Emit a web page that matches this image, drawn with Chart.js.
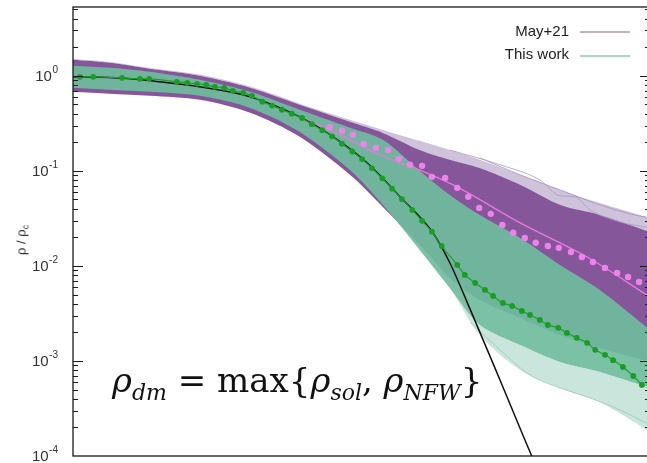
<!DOCTYPE html>
<html>
<head>
<meta charset="utf-8">
<script src="https://cdn.jsdelivr.net/npm/chart.js@4/dist/chart.umd.min.js"></script>
<style>
  html, body { margin: 0; padding: 0; background: #fff; overflow: hidden; }
  #wrap { position: absolute; left: 0; top: 0; width: 660px; height: 480px; }
  #ylab { position: absolute; left: 22px; top: 240px; transform: translate(-50%, -50%) rotate(-90deg);
          font: 13px "Liberation Sans", Arial, sans-serif; color: #222; white-space: nowrap; }
  #ylab sub { font-size: 9px; vertical-align: -3px; }
  .leg { position: absolute; font: 15px "Liberation Sans", Arial, sans-serif; color: #222; text-align: right; width: 200px; }
  .legline { position: absolute; height: 1.5px; width: 50px; left: 580px; }
  #formula { position: absolute; left: 112px; top: 360px; font: 34px "DejaVu Serif", "Liberation Serif", serif; color: #111; white-space: nowrap; }
  #formula sub { font-size: 22px; vertical-align: -8px; }
</style>
</head>
<body>
<div id="wrap"><canvas id="chart"></canvas></div>
<div id="ylab">ρ / ρ<sub>c</sub></div>
<div class="leg" style="left:369px; top:22px;">May+21</div>
<div class="legline" style="top:31px; background: rgb(188,178,208);"></div>
<div class="leg" style="left:369px; top:45px;">This work</div>
<div class="legline" style="top:55px; background: rgb(172,212,196);"></div>
<div id="formula"><i>ρ</i><sub><i>dm</i></sub> = max{<i>ρ</i><sub><i>sol</i></sub>, <i>ρ</i><sub><i>NFW</i></sub>}</div>
<script>
// y tick labels (log axis, rho / rho_c): mantissa "10" with exponent
var yTickValues = [1e-4, 1e-3, 1e-2, 1e-1, 1];
var yTickExps = ['-4', '-3', '-2', '-1', '0'];

// envelopes of the two bundles of profiles, sampled on a common radius grid
var bandX         = [0, 6.4, 13.3, 22.0, 30.7, 39.3, 48.0, 53.7, 60.1, 65.3, 70.5, 77.5, 84.4, 91.3, 100];
var mayFaintUp    = [1.50, 1.40, 1.21, 1.03, 0.77, 0.51, 0.345, 0.27, 0.207, 0.166, 0.131, 0.0908, 0.0631, 0.0460, 0.0320];
var mayUpper      = [1.474, 1.370, 1.185, 1.0, 0.748, 0.495, 0.328, 0.251, 0.166, 0.131, 0.107, 0.0714, 0.0439, 0.0344, 0.0228];
var mayLower      = [0.679, 0.646, 0.616, 0.559, 0.408, 0.228, 0.0908, 0.0418, 0.0166, 0.00748, 0.00439, 0.00284, 0.00188, 0.00137, 0.000976];
var workUpper     = [1.274, 1.214, 1.102, 0.908, 0.679, 0.439, 0.284, 0.212, 0.0998, 0.0558, 0.0343, 0.0197, 0.01024, 0.00559, 0.00212];
var workLower     = [0.748, 0.712, 0.679, 0.616, 0.460, 0.257, 0.102, 0.0439, 0.0147, 0.00587, 0.00239, 0.00147, 0.000976, 0.000766, 0.000520];
var workFaintLow  = [0.748, 0.712, 0.679, 0.616, 0.460, 0.257, 0.102, 0.0439, 0.0147, 0.00587, 0.00188, 0.000804, 0.000520, 0.000370, 0.000179];

// a few individual profiles standing out of the bundles
var strayAX = [65.3, 74.0, 80.9, 84.4, 87.0, 89.6, 94.8, 100];
var strayAY = [0.166, 0.116, 0.0804, 0.0546, 0.0533, 0.0389, 0.0290, 0.0251];
var strayBX = [70.5, 77.5, 84.4, 91.3, 96.5, 100];
var strayBY = [0.137, 0.0908, 0.0631, 0.0439, 0.0353, 0.0320];
var faintX  = [68.8, 74.0, 79.2, 84.4, 89.6, 94.8, 100];
var faintY  = [0.00257, 0.00131, 0.000712, 0.000520, 0.000408, 0.000305, 0.000212];

// soliton profile (black)
var solX = [0, 4.7, 9.9, 15.0, 21.9, 30.7, 39.3, 45.1, 51.0, 56.7, 62.4, 65.3, 68.8, 74.0, 79.5, 81.8];
var solY = [0.976, 0.964, 0.930, 0.865, 0.766, 0.601, 0.370, 0.228, 0.121, 0.0532, 0.0222, 0.0108, 0.00353, 0.000631, 0.0001, 0.0000483];

// best fit, this work (green dots)
var fitWorkX = [1.2, 3.5, 8.5, 11.6, 13.2, 18.0, 19.8, 21.5, 23.1, 24.6, 26.2, 27.7, 29.5, 31.0, 32.8, 34.5, 36.2, 37.9,
  39.7, 41.4, 43.2, 44.9, 46.6, 48.4, 50.1, 51.8, 53.6, 55.3, 57.0, 58.8, 60.5, 62.2, 63.9, 66.6, 67.9, 69.7, 71.4,
  72.8, 74.5, 76.1, 77.8, 79.2, 80.9, 82.3, 84.1, 85.6, 87.3, 89.1, 90.5, 92.2, 93.6, 95.3, 97.1, 98.6];
var fitWorkY = [0.976, 0.976, 0.953, 0.930, 0.930, 0.865, 0.844, 0.824, 0.804, 0.766, 0.748, 0.695, 0.662, 0.616, 0.535, 0.486, 0.441, 0.400,
  0.360, 0.310, 0.268, 0.231, 0.193, 0.160, 0.133, 0.107, 0.0834, 0.0650, 0.0505, 0.0388, 0.0298, 0.0229, 0.0162, 0.01024, 0.00804, 0.00662, 0.00559,
  0.00483, 0.00408, 0.00379, 0.00336, 0.00305, 0.00270, 0.00239, 0.00223, 0.00197, 0.00175, 0.00155, 0.00131, 0.00116, 0.00102, 0.000865, 0.000695, 0.000559];

// best fit, May+21 (pink dots) and their mean profile (pink line)
var fitMayX = [44.5, 46.6, 48.5, 50.4, 52.5, 54.6, 56.5, 58.4, 60.5, 62.2, 64.5, 66.6, 68.5, 70.4, 72.4, 74.4, 76.3, 78.3,
  80.2, 82.3, 84.2, 86.3, 88.2, 90.1, 92.2, 94.3, 96.2, 98.1];
var fitMayY = [0.290, 0.264, 0.239, 0.192, 0.175, 0.166, 0.134, 0.116, 0.113, 0.0865, 0.0844, 0.0663, 0.0533, 0.0408, 0.0353, 0.0270, 0.0223, 0.0197,
  0.0175, 0.0162, 0.0155, 0.0140, 0.0124, 0.0110, 0.00953, 0.00844, 0.00766, 0.00679];
var mayLineX = [39.3, 46.3, 53.2, 60.1, 65.9, 77.5, 89.1, 100];
var mayLineY = [0.370, 0.239, 0.147, 0.102, 0.0712, 0.0284, 0.0124, 0.00472];

function pts(xs, ys) {
  return xs.map(function (x, i) { return { x: x, y: ys[i] }; });
}

function band(label, data, fill, color, order) {
  return { label: label, data: data, fill: fill, backgroundColor: color, borderWidth: 0,
           pointRadius: 0, tension: 0.3, order: order };
}

function line(label, data, color, width, order) {
  return { label: label, data: data, borderColor: color, borderWidth: width, pointRadius: 0,
           fill: false, cubicInterpolationMode: 'monotone', order: order };
}

// frame, inward ticks on both sides and "10^n" labels
var frame = {
  id: 'frame',
  afterDatasetsDraw: function (chart) {
    var ctx = chart.ctx, a = chart.chartArea, y = chart.scales.y;
    ctx.save();
    ctx.strokeStyle = '#1a1a1a';
    ctx.lineWidth = 1.3;
    ctx.strokeRect(a.left, a.top, a.right - a.left, a.bottom - a.top);
    ctx.lineWidth = 1;
    y.ticks.forEach(function (t) {
      var p = Math.round(y.getPixelForValue(t.value)) + 0.5;
      if (p < a.top || p > a.bottom) return;
      var lg = Math.log10(t.value);
      var len = Math.abs(lg - Math.round(lg)) < 1e-6 ? 10 : 5;
      ctx.beginPath();
      ctx.moveTo(a.left, p); ctx.lineTo(a.left + len, p);
      ctx.moveTo(a.right, p); ctx.lineTo(a.right - len, p);
      ctx.stroke();
    });
    ctx.fillStyle = '#333';
    ctx.textAlign = 'right';
    ctx.textBaseline = 'middle';
    yTickValues.forEach(function (v, i) {
      var p = y.getPixelForValue(v);
      var right = a.left - 15;
      ctx.font = '10px "Liberation Sans", "DejaVu Sans", sans-serif';
      var ew = ctx.measureText(yTickExps[i]).width;
      ctx.fillText(yTickExps[i], right, p - 6);
      ctx.font = '15px "Liberation Sans", "DejaVu Sans", sans-serif';
      ctx.fillText('10', right - ew - 0.5, p + 1);
    });
    ctx.restore();
  }
};

new Chart(document.getElementById('chart'), {
  type: 'line',
  data: {
    datasets: [
      band('May+21 edge', pts(bandX, mayFaintUp), 1, 'rgba(165,145,188,0.55)', 21),
      band('May+21 upper', pts(bandX, mayUpper), '+1', 'rgba(124,72,146,0.92)', 20),
      band('May+21 lower', pts(bandX, mayLower), false, 'rgba(0,0,0,0)', 20),
      line('May+21 stray', pts(strayAX, strayAY), 'rgba(170,155,190,0.8)', 1, 19),
      line('May+21 stray', pts(strayBX, strayBY), 'rgba(165,148,188,0.8)', 1, 19),
      band('This work upper', pts(bandX, workUpper), '+1', 'rgba(112,188,158,0.93)', 18),
      band('This work lower', pts(bandX, workLower), false, 'rgba(0,0,0,0)', 18),
      band('This work faint', pts(bandX, workFaintLow), 6, 'rgba(150,206,186,0.5)', 17),
      line('This work faint', pts(faintX, faintY), 'rgba(140,200,180,0.7)', 1, 16),
      line('May+21 mean', pts(mayLineX, mayLineY), 'rgb(232,120,222)', 1.3, 6),
      {
        label: 'May+21 fit', data: pts(fitMayX, fitMayY), showLine: false,
        pointRadius: 3.2, pointBackgroundColor: 'rgb(238,130,234)', pointBorderWidth: 0, order: 5
      },
      line('soliton', pts(solX, solY), '#111', 1.5, 4),
      {
        label: 'This work fit', data: pts(fitWorkX, fitWorkY), borderColor: 'rgb(30,160,40)', borderWidth: 1.2,
        cubicInterpolationMode: 'monotone', fill: false,
        pointRadius: 2.9, pointBackgroundColor: 'rgb(25,158,35)', pointBorderWidth: 0, order: 1
      }
    ]
  },
  options: {
    responsive: true,
    maintainAspectRatio: false,
    animation: false,
    layout: { padding: { top: 7, right: 10, bottom: 24, left: 0 } },
    plugins: { legend: { display: false }, tooltip: { enabled: false } },
    scales: {
      x: { type: 'linear', min: 0, max: 100, display: false },
      y: {
        type: 'logarithmic', min: 1e-4, max: 5.3,
        grid: { display: false, drawTicks: false },
        border: { display: false },
        ticks: { display: false },
        afterFit: function (s) { s.width = 73; s.paddingTop = 0; s.paddingBottom = 0; },
        afterBuildTicks: function (s) {
          var t = [];
          for (var n = -4; n <= 0; n++) {
            for (var k = 1; k <= 9; k++) {
              var v = k * Math.pow(10, n);
              if (v <= 5.3) t.push({ value: v });
            }
          }
          s.ticks = t;
        }
      }
    }
  },
  plugins: [frame]
});
</script>
</body>
</html>
